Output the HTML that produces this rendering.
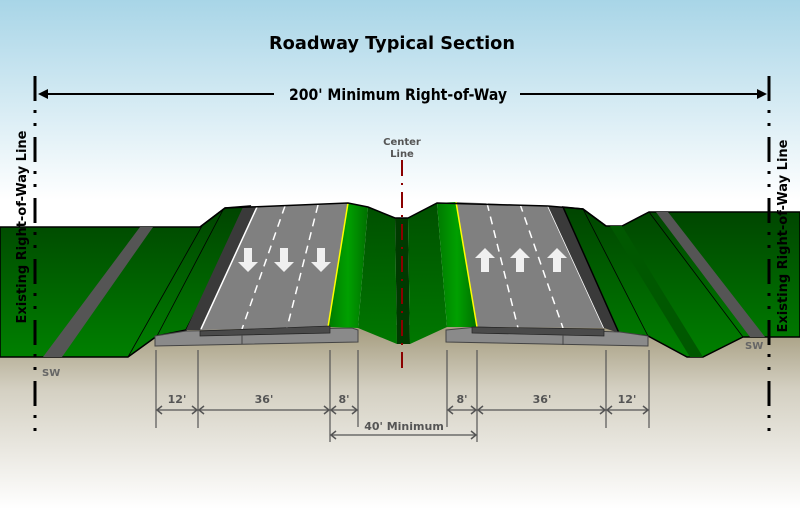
<!DOCTYPE html>
<html><head><meta charset="utf-8"><style>html,body{margin:0;padding:0;width:800px;height:509px;overflow:hidden}</style></head>
<body>
<svg width="800" height="509" viewBox="0 0 800 509" xmlns="http://www.w3.org/2000/svg" font-family="'DejaVu Sans', 'Liberation Sans', sans-serif">
<defs>
<linearGradient id="sky" x1="0" y1="0" x2="0" y2="200" gradientUnits="userSpaceOnUse"><stop offset="0" stop-color="#a8d5e7"/><stop offset="1" stop-color="#ffffff"/></linearGradient>
<linearGradient id="gr" x1="0" y1="0" x2="0" y2="1"><stop offset="0" stop-color="#a39a7c"/><stop offset="0.35" stop-color="#d4d0c2"/><stop offset="1" stop-color="#ffffff"/></linearGradient>
<linearGradient id="grn" x1="0" y1="0" x2="0" y2="1"><stop offset="0" stop-color="#004400"/><stop offset="1" stop-color="#008000"/></linearGradient>
<linearGradient id="grn2" x1="0" y1="0" x2="1" y2="0"><stop offset="0" stop-color="#007a00"/><stop offset="0.5" stop-color="#00a000"/><stop offset="1" stop-color="#007000"/></linearGradient>
<linearGradient id="grn3" x1="0" y1="0" x2="0" y2="1"><stop offset="0" stop-color="#005000"/><stop offset="1" stop-color="#007800"/></linearGradient>
</defs>
<rect width="800" height="509" fill="#fff"/>
<rect width="800" height="200" fill="url(#sky)"/>
<rect y="325" width="800" height="184" fill="url(#gr)"/>
<!-- left terrain -->
<polygon points="0,227 200,227 225,208 250,206 186,330 157,336 128,357 0,357" fill="url(#grn)" stroke="#000" stroke-width="1.5"/>
<line x1="202" y1="226" x2="128" y2="357" stroke="#000" stroke-width="0.8"/>
<line x1="223" y1="210" x2="157" y2="336" stroke="#000" stroke-width="0.8"/>
<polygon points="140,227 153,227 62,357 43,357" fill="#555"/>
<!-- left road -->
<polygon points="243,207 257,207 200,330 186,330" fill="#3a3a3a"/>
<polygon points="257,207 348,203 328,327 200,330" fill="#808080"/>
<line x1="257" y1="207" x2="201" y2="329" stroke="#fff" stroke-width="1.5"/>
<line x1="285" y1="206" x2="242" y2="329" stroke="#fff" stroke-width="1.5" stroke-dasharray="8 6"/>
<line x1="318" y1="205" x2="287" y2="328" stroke="#fff" stroke-width="1.5" stroke-dasharray="8 6"/>
<polygon points="348,203 368,207 358,328 328,327" fill="url(#grn2)"/>
<line x1="348" y1="203" x2="328" y2="327" stroke="#ff0" stroke-width="1.5"/>
<polygon points="368,207 395,218 397,344 358,328" fill="url(#grn3)"/>
<polygon points="395,218 408,218 410,344 397,344" fill="#003a00"/>
<polygon points="408,218 437,203 447,327 410,344" fill="url(#grn3)"/>
<!-- right road -->
<polygon points="437,203 456,202 477,327 447,327" fill="url(#grn2)"/>
<polygon points="456,202 548,206 604,328 477,327" fill="#808080"/>
<line x1="456" y1="202" x2="477" y2="327" stroke="#ff0" stroke-width="1.5"/>
<line x1="487" y1="203" x2="518" y2="328" stroke="#fff" stroke-width="1.5" stroke-dasharray="8 6"/>
<line x1="520" y1="204" x2="563" y2="328" stroke="#fff" stroke-width="1.5" stroke-dasharray="8 6"/>
<line x1="548" y1="206" x2="604" y2="328" stroke="#fff" stroke-width="1.5"/>
<polygon points="548,206 563,207 619,333 604,328" fill="#3a3a3a"/>
<!-- right terrain -->
<polygon points="563,207 583,209 606,226 622,226 649,212 800,212 800,337 743,337 703,357 687,357 648,336 619,333" fill="url(#grn)" stroke="#000" stroke-width="1.5"/>
<polygon points="610,226 622,226 703,357 690,357" fill="#005800"/>
<line x1="583" y1="209" x2="648" y2="336" stroke="#000" stroke-width="0.8"/>
<line x1="649" y1="212" x2="743" y2="337" stroke="#000" stroke-width="0.8"/>
<polygon points="656,212 668,212 765,337 750,337" fill="#555"/>
<polyline points="200,227 225,208 348,203 368,207 395,218 408,218 437,203 548,206 583,209 606,226" fill="none" stroke="#000" stroke-width="1.5"/>
<!-- slabs -->
<polygon points="155,336 186,331 352,328 358,330 358,342 155,346" fill="#8a8a8a" stroke="#444" stroke-width="1"/>
<polygon points="200,331 330,326 330,333 200,336" fill="#4a4a4a" stroke="#222" stroke-width="0.7"/>
<line x1="242" y1="335" x2="242" y2="344" stroke="#444"/>
<polygon points="446,330 477,327 620,332 648,336 648,346 446,342" fill="#8a8a8a" stroke="#444" stroke-width="1"/>
<polygon points="472,327 604,329 604,336 472,333" fill="#4a4a4a" stroke="#222" stroke-width="0.7"/>
<line x1="563" y1="335" x2="563" y2="345" stroke="#444"/>
<!-- arrows -->
<g fill="#f0f0f0">
<polygon points="244,248 252,248 252,262 258,262 248,272 238,262 244,262"/>
<polygon points="280,248 288,248 288,262 294,262 284,272 274,262 280,262"/>
<polygon points="317,248 325,248 325,262 331,262 321,272 311,262 317,262"/>
<polygon points="481,272 489,272 489,258 495,258 485,248 475,258 481,258"/>
<polygon points="516,272 524,272 524,258 530,258 520,248 510,258 516,258"/>
<polygon points="553,272 561,272 561,258 567,258 557,248 547,258 553,258"/>
</g>
<!-- center line -->
<line x1="402" y1="160" x2="402" y2="375" stroke="#8b0000" stroke-width="2" stroke-dasharray="16 7 2 7"/>
<text x="402" y="145" font-size="10" fill="#555" text-anchor="middle" font-weight="bold">Center</text>
<text x="402" y="157" font-size="10" fill="#555" text-anchor="middle" font-weight="bold">Line</text>
<!-- ROW lines -->
<line x1="35" y1="76" x2="35" y2="440" stroke="#000" stroke-width="3" stroke-dasharray="25 9 3 10 3 11"/>
<line x1="769" y1="76" x2="769" y2="440" stroke="#000" stroke-width="3" stroke-dasharray="25 9 3 10 3 11"/>
<text transform="translate(26,227) rotate(-90)" font-size="13" font-weight="bold" text-anchor="middle" fill="#000" textLength="193" lengthAdjust="spacing">Existing Right-of-Way Line</text>
<text transform="translate(787,236) rotate(-90)" font-size="13" font-weight="bold" text-anchor="middle" fill="#000" textLength="193" lengthAdjust="spacing">Existing Right-of-Way Line</text>
<text x="42" y="376" font-size="10" font-weight="bold" fill="#666">SW</text>
<text x="745" y="349" font-size="10" font-weight="bold" fill="#666">SW</text>
<!-- title -->
<text x="392" y="49" font-size="18" font-weight="bold" text-anchor="middle" fill="#000" textLength="246" lengthAdjust="spacingAndGlyphs">Roadway Typical Section</text>
<line x1="40" y1="94" x2="274" y2="94" stroke="#000" stroke-width="2"/>
<line x1="520" y1="94" x2="764" y2="94" stroke="#000" stroke-width="2"/>
<polygon points="38,94 48,89 48,99"/><polygon points="767,94 757,89 757,99"/>
<text x="398" y="100" font-size="16" font-weight="bold" text-anchor="middle" fill="#000" textLength="218" lengthAdjust="spacingAndGlyphs">200' Minimum Right-of-Way</text>
<!-- dimensions -->
<g stroke="#555" stroke-width="1.2">
<line x1="156" y1="350" x2="156" y2="428"/><line x1="198" y1="350" x2="198" y2="428"/>
<line x1="330" y1="350" x2="330" y2="442"/><line x1="358" y1="350" x2="358" y2="427"/>
<line x1="447" y1="350" x2="447" y2="427"/><line x1="477" y1="350" x2="477" y2="442"/>
<line x1="606" y1="350" x2="606" y2="428"/><line x1="649" y1="350" x2="649" y2="428"/>
<line x1="157" y1="410" x2="197" y2="410"/><line x1="199" y1="410" x2="329" y2="410"/>
<line x1="331" y1="410" x2="357" y2="410"/><line x1="448" y1="410" x2="476" y2="410"/>
<line x1="478" y1="410" x2="605" y2="410"/><line x1="607" y1="410" x2="648" y2="410"/>
<line x1="331" y1="435" x2="476" y2="435"/>
</g>
<g fill="none" stroke="#555" stroke-width="1.5">
<polyline points="162,406 157,410 162,414"/><polyline points="192,406 197,410 192,414"/>
<polyline points="204,406 199,410 204,414"/><polyline points="324,406 329,410 324,414"/>
<polyline points="336,406 331,410 336,414"/><polyline points="352,406 357,410 352,414"/>
<polyline points="453,406 448,410 453,414"/><polyline points="471,406 476,410 471,414"/>
<polyline points="483,406 478,410 483,414"/><polyline points="600,406 605,410 600,414"/>
<polyline points="612,406 607,410 612,414"/><polyline points="643,406 648,410 643,414"/>
<polyline points="336,431 331,435 336,439"/><polyline points="471,431 476,435 471,439"/>
</g>
<g font-size="11" font-weight="bold" fill="#555" text-anchor="middle">
<text x="177" y="403">12'</text><text x="264" y="403">36'</text><text x="344" y="403">8'</text>
<text x="462" y="403">8'</text><text x="542" y="403">36'</text><text x="627" y="403">12'</text>
<text x="404" y="430">40' Minimum</text>
</g>
</svg>
</body></html>
